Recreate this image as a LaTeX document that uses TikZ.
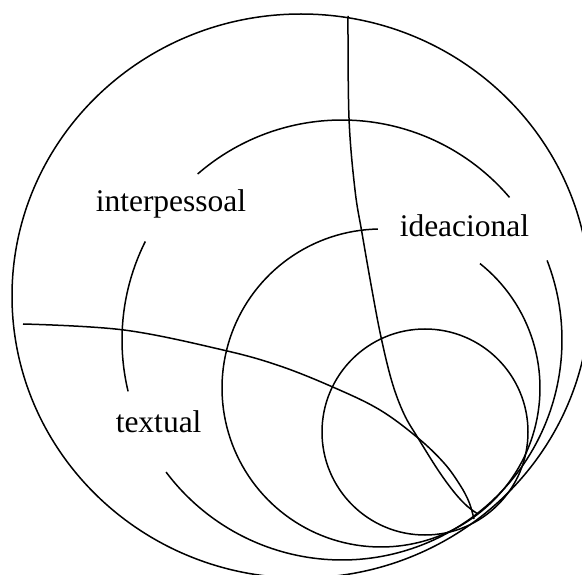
\documentclass[tikz,border=0pt]{standalone}
\usepackage{fontspec}
\setmainfont{Liberation Serif}
\begin{document}
\begin{tikzpicture}[x=1pt,y=-1pt,line width=1.5pt,
  lbl/.style={anchor=base west,inner sep=0pt,font=\fontsize{31.5}{36}\selectfont}]
\useasboundingbox (0,0) rectangle (582,575);
\clip (0,0) rectangle (582,575);
% outer circle
\draw (301,296) ellipse [x radius=289, y radius=282];
% small circle
\draw (425,432) circle [radius=103];
% middle circle (gap for label)
\draw plot[domain=-51.5:268.9,samples=150] ({381+159*cos(\x)},{388+159*sin(\x)});
% large inner circle with three gaps
\draw plot[domain=-131:-40.4,samples=80] ({342+220*cos(\x)},{340+220*sin(\x)});
\draw plot[domain=-21.2:143.1,samples=120] ({342+220*cos(\x)},{340+220*sin(\x)});
\draw plot[domain=166.5:206.6,samples=40] ({342+220*cos(\x)},{340+220*sin(\x)});
% crossing arcs
\coordinate (atop) at (348,16);
\coordinate (aend) at (478,514);
\coordinate (bleft) at (23,324);
\coordinate (bend) at (474,519);
\draw plot[smooth,tension=0.6] coordinates {(atop) (349,118) (355,190) (362,233) (372,290) (381,337) (392,382) (404,414) (418,438) (438,470) (454,492) (467,506) (aend)};
\draw plot[smooth,tension=0.6] coordinates {(bleft) (124,330) (223,350) (280,366) (335,388) (380,410) (418,438) (444,463) (460,485) (469,502) (bend)};
% labels
\node[lbl] (inter) at (95,212) {interpessoal};
\node[lbl] (idea) at (399,237) {ideacional};
\node[lbl] (text) at (115,432) {textual};
\end{tikzpicture}
\end{document}
